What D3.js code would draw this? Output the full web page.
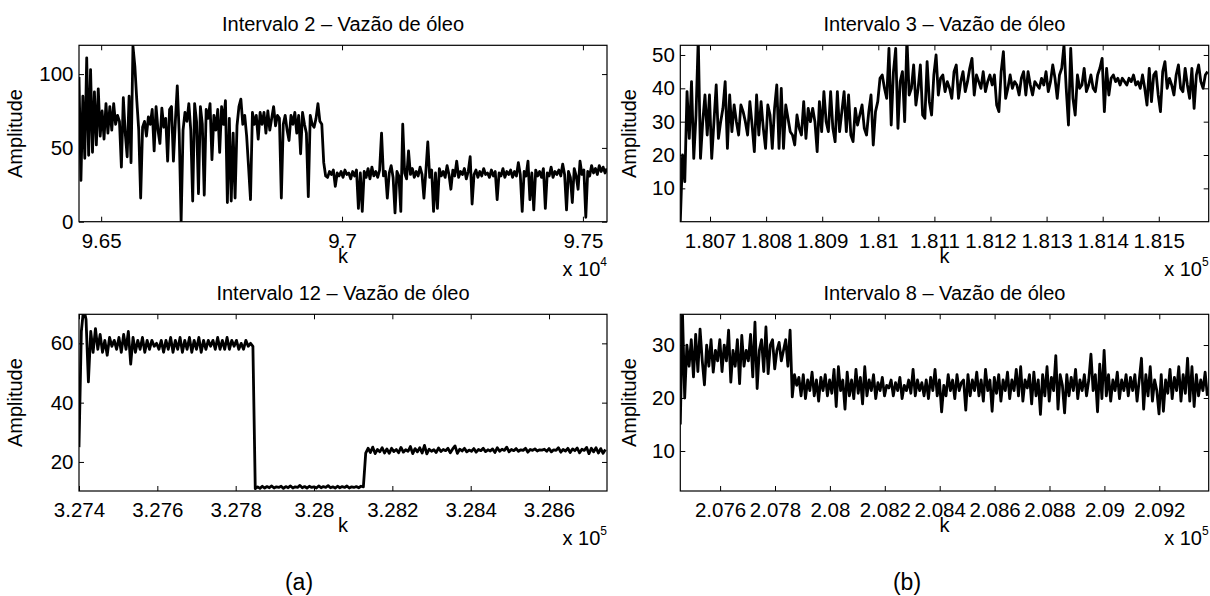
<!DOCTYPE html>
<html>
<head>
<meta charset="utf-8">
<title>Vazão de óleo</title>
<script src="https://cdn.jsdelivr.net/npm/d3@7"></script>
<style>
body{margin:0;background:#fff;}
text{font-family:"Liberation Sans",Arial,Helvetica,sans-serif;fill:#000;}
</style>
</head>
<body>
<script>
// amplitude samples (uniform k step per panel)
var kStartInt2=96454, kStepInt2=4;
var ampInt2=[98,28,85,43,111,45,103,47,88,52,
90,58,75,56,80,60,78,62,80,66,
72,68,37,84,60,44,85,40,119,105,
82,62,16,64,68,58,71,66,76,48,
78,62,53,77,64,70,41,76,78,41,
68,92,60,0,62,74,68,80,62,14,
80,68,19,78,66,18,76,70,80,42,
72,62,76,47,78,66,82,13,70,14,
60,16,65,78,83,66,72,58,37,15,
74,66,72,56,74,66,74,60,75,62,
70,78,65,72,70,16,66,72,62,55,
72,66,74,60,72,46,74,66,60,17,
72,66,64,70,80,68,66,40,31,30,
34,32,35,24,33,31,34,30,35,32,
33,29,34,31,35,9,33,7,34,30,
36,29,37,31,34,30,35,60,31,34,
16,33,38,30,6,34,31,7,66,33,
29,48,32,36,30,34,31,37,32,16,
34,54,30,35,7,33,9,36,31,34,
30,38,32,22,35,31,41,30,34,32,
36,29,34,44,12,32,35,30,34,31,
36,32,33,30,35,31,34,15,33,31,
36,30,34,32,35,30,34,31,40,32,
7,34,31,41,15,33,8,35,31,34,
30,36,9,33,31,37,30,34,32,35,
31,39,32,8,34,30,13,36,31,22,
41,32,35,3,34,31,38,33,36,32,
38,34,37,33,36];

var kStartInt3=180647, kStepInt3=4;
var ampInt3=[0,20,12,39,25,42,19,32,55,19,
30,38,26,38,19,30,41,25,30,34,
42,22,38,27,35,30,26,35,33,30,
26,36,29,21,38,26,36,28,22,35,
32,22,34,41,22,40,22,35,31,27,
26,23,32,28,26,36,25,34,30,34,
30,21,36,27,39,30,27,39,28,24,
39,27,33,39,27,38,26,24,34,29,
32,35,28,26,33,38,23,33,36,43,
44,40,37,52,29,45,52,28,42,45,
30,55,38,40,47,35,40,47,32,31,
48,36,32,44,50,38,43,44,39,42,
40,37,45,47,37,42,45,39,42,46,
49,38,44,42,40,45,39,42,44,41,
44,35,33,45,51,37,40,44,40,42,
41,38,43,45,38,45,41,38,42,41,
40,43,41,45,39,42,47,43,37,44,
46,53,40,29,52,37,32,44,40,41,
46,39,41,44,40,39,44,46,49,33,
46,38,43,44,42,43,41,43,42,41,
43,42,44,41,42,40,44,40,35,46,
36,44,45,38,33,45,48,40,43,41,
38,44,47,40,39,46,41,37,46,34,
44,47,42,40,44,45];

var kStartInt12=327400, kStepInt12=6;
var ampInt12=[25,64,72,68,47,64,57,65,58,63,
57,61,56,62,59,61,58,62,57,63,
58,64,53,62,57,61,58,62,57,61,
58,61,59,60,58,61,57,61,58,62,
57,61,58,62,57,61,58,62,57,61,
58,62,57,61,58,61,59,61,58,62,
58,61,58,62,58,61,59,61,58,60,
58,61,59,60,59,11,11.6,11.1,11.8,11.2,
11.7,11.3,11.9,11.2,11.6,11.4,11.8,11.1,11.7,11.3,
11.9,11.2,11.6,11.4,12.1,11.3,11.7,11.2,11.8,11.4,
11.6,11.2,11.9,11.3,11.7,11.4,12.0,11.3,11.6,11.2,
11.8,11.3,11.7,11.4,11.9,11.2,11.6,11.4,11.7,11.3,
11.8,11.6,23,24.6,23.2,25,22.8,24.2,23.4,24.8,
23,24.4,22.9,24.6,23.5,24.2,23.1,24.9,23.3,24.1,
23.6,25.2,22.8,24.5,23.4,24.8,23,25.6,22.7,24.3,
23.6,24.1,23.2,24.7,23.5,24.2,23.8,24.6,23.1,24.4,
25.4,22.9,24.3,23.7,24.6,23.4,24,23.6,24.5,23.3,
24.2,23.8,24.6,23.5,24.1,23.7,24.4,23.2,24.8,23.6,
24.3,23.9,25,23.4,24.2,23.8,24.5,23.6,24.1,23.9,
24.6,23.3,24.2,23.9,24.4,23.7,24.1,24,24.3,23.6,
24.5,23.4,24.1,23.9,24.8,23.3,24.2,23.7,24.6,23.2,
24.4,23.8,24.7,23.1,24.3,23.9,24.9,22.8,24.6,23.4,
24.8,23,24.5,22.9,24.2];

var kStartInt8=207455, kStepInt8=8;
var ampInt8=[15,36,20,30,26,31,24,32,25,33,
27,22.5,30,26,31,24.9,29,27,31,25,
30,27,32.8,23,29,26,31,22.7,31.8,26,
29,27,32,24,34.3,21.8,29,31,25,33.4,
24.6,30,31,25.5,29,30.5,27,29,31,26,
32.8,20.2,24.4,22.4,23.9,20.4,24.4,19.9,23.4,21.4,
24.9,20.4,23.4,19.4,23.9,21.4,24.4,20.4,23.4,20.9,
25.4,18.4,25.9,21.4,23.4,17.9,24.9,20.4,23.4,19.9,
25.4,20.9,23.9,18.9,25.9,20.4,23.4,21.4,24.4,19.9,
22.9,21.4,23.9,20.4,22.4,21.9,23.4,20.4,22.9,21.4,
23.9,19.9,22.4,21.4,23.4,20.9,25.4,20.4,23.4,21.4,
22.9,20.4,23.4,19.9,23.9,21.4,25.4,20.4,23.4,17.4,
22.4,20.4,24.4,21.4,23.4,19.9,24.4,21.4,22.9,23.4,
17.7,24.4,20.4,23.4,21.4,24.9,20.4,23.4,19.4,25.4,
21.4,23.4,17.5,23.9,20.9,24.4,19.4,23.4,21.4,24.9,
19.9,23.4,21.4,25.4,20.4,25.9,19.4,23.4,21.9,24.4,
18.9,24.9,20.4,23.4,16.9,24.4,20.4,25.9,19.4,23.9,
21.4,28,17.9,24.4,22.4,17.2,24.4,20.4,23.9,21.4,
25.4,19.9,23.4,21.4,24.4,20.4,23.4,28.3,21.4,24.4,
17.4,26.4,19.9,29,20.4,24.4,19.4,23.4,21.4,24.9,
19.9,23.4,21.4,24.4,20.4,23.9,21.4,24.4,19.4,23.4,
27.5,17.9,24.4,20.4,25.9,19.4,23.4,21.4,17,24.4,
17.5,23.4,20.9,25.4,19.9,23.9,21.4,25.9,19.4,24.4,
20.9,27.5,19.4,25.9,18.4,24.4,20.4,23.4,21.4,24.9,
20.4];

// tick values and labels
var xTicksInt2=[96500,97000,97500], xLabelsInt2=['9.65','9.7','9.75'];
var yTicksInt2=[0,50,100];
var xTicksInt3=[180700,180800,180900,181000,181100,181200,181300,181400,181500];
var xLabelsInt3=['1.807','1.808','1.809','1.81','1.811','1.812','1.813','1.814','1.815'];
var yTicksInt3=[10,20,30,40,50];
var xTicksInt12=[327400,327600,327800,328000,328200,328400,328600];
var xLabelsInt12=['3.274','3.276','3.278','3.28','3.282','3.284','3.286'];
var yTicksInt12=[20,40,60];
var xTicksInt8=[207600,207800,208000,208200,208400,208600,208800,209000,209200];
var xLabelsInt8=['2.076','2.078','2.08','2.082','2.084','2.086','2.088','2.09','2.092'];
var yTicksInt8=[10,20,30];

function toPoints(kStart,kStep,amp){
	return amp.map(function(v,i){return [kStart+i*kStep,v];});
}

var panels=[
	{title:'Intervalo 2 – Vazão de óleo',data:toPoints(kStartInt2,kStepInt2,ampInt2),
	 xDom:[96454,97550],yDom:[0,119.5],xTicks:xTicksInt2,xLabels:xLabelsInt2,yTicks:yTicksInt2,
	 exp:'4',x:79,y:45.3,w:528,h:176.4,yl:-57},
	{title:'Intervalo 3 – Vazão de óleo',data:toPoints(kStartInt3,kStepInt3,ampInt3),
	 xDom:[180647,181589],yDom:[0,52.9],xTicks:xTicksInt3,xLabels:xLabelsInt3,yTicks:yTicksInt3,
	 exp:'5',x:680.3,y:45.3,w:528.4,h:176.4,yl:-44},
	{title:'Intervalo 12 – Vazão de óleo',data:toPoints(kStartInt12,kStepInt12,ampInt12),
	 xDom:[327400,328748],yDom:[10.2,69.8],xTicks:xTicksInt12,xLabels:xLabelsInt12,yTicks:yTicksInt12,
	 exp:'5',x:79,y:314.3,w:528,h:176.7,yl:-57},
	{title:'Intervalo 8 – Vazão de óleo',data:toPoints(kStartInt8,kStepInt8,ampInt8),
	 xDom:[207455,209380],yDom:[2.45,35.8],xTicks:xTicksInt8,xLabels:xLabelsInt8,yTicks:yTicksInt8,
	 exp:'5',x:680.3,y:314.3,w:528.4,h:176.7,yl:-44}
];

var svg=d3.select('body').append('svg')
	.attr('width',1210)
	.attr('height',596);

panels.forEach(function(p,n){
	var g=svg.append('g').attr('transform','translate('+p.x+','+p.y+')');
	var xScale=d3.scaleLinear().domain(p.xDom).range([0,p.w]);
	var yScale=d3.scaleLinear().domain(p.yDom).range([p.h,0]);

	g.append('clipPath').attr('id','clip'+n)
		.append('rect').attr('width',p.w).attr('height',p.h);

	var line=d3.line()
		.x(function(d){return xScale(d[0]);})
		.y(function(d){return yScale(d[1]);});

	g.append('path')
		.datum(p.data)
		.attr('clip-path','url(#clip'+n+')')
		.attr('d',line)
		.attr('fill','none')
		.attr('stroke','#000')
		.attr('stroke-width',2.8)
		.attr('stroke-linejoin','round');

	// axes, ticks pointing inside like matlab
	g.append('g').attr('transform','translate(0,'+p.h+')')
		.call(d3.axisBottom(xScale).tickValues(p.xTicks)
			.tickFormat(function(d,i){return p.xLabels[i];})
			.tickSizeInner(-5).tickSizeOuter(0).tickPadding(11.6));
	g.append('g')
		.call(d3.axisTop(xScale).tickValues(p.xTicks).tickFormat('')
			.tickSizeInner(-5).tickSizeOuter(0));
	g.append('g')
		.call(d3.axisLeft(yScale).tickValues(p.yTicks)
			.tickSizeInner(-5).tickSizeOuter(0).tickPadding(5.5));
	g.append('g').attr('transform','translate('+p.w+',0)')
		.call(d3.axisRight(yScale).tickValues(p.yTicks).tickFormat('')
			.tickSizeInner(-5).tickSizeOuter(0));

	g.selectAll('.domain').remove();
	g.selectAll('.tick line').attr('stroke','#000').attr('stroke-width',1);
	g.selectAll('.tick text').attr('font-size','20.5px')
		.attr('font-family','"Liberation Sans",Arial,sans-serif');

	g.append('rect')
		.attr('width',p.w).attr('height',p.h)
		.attr('fill','none').attr('stroke','#000').attr('stroke-width',1.2);

	g.append('text')
		.attr('x',p.w/2).attr('y',-14.8)
		.attr('text-anchor','middle')
		.attr('font-size','20px')
		.text(p.title);

	g.append('text')
		.attr('x',p.w/2).attr('y',p.h+41)
		.attr('text-anchor','middle')
		.attr('font-size','20px')
		.text('k');

	var ex=g.append('text')
		.attr('x',p.w).attr('y',p.h+54)
		.attr('text-anchor','end')
		.attr('font-size','20px');
	ex.append('tspan').text('x 10');
	ex.append('tspan').attr('font-size','12px').attr('dy',-10).text(p.exp);

	g.append('text')
		.attr('transform','translate('+p.yl+','+(p.h/2)+') rotate(-90)')
		.attr('text-anchor','middle')
		.attr('font-size','20px')
		.text('Amplitude');
});

svg.append('text')
	.attr('x',299).attr('y',590)
	.attr('text-anchor','middle')
	.attr('font-family','"Liberation Serif","DejaVu Serif",serif')
	.attr('font-size','23px')
	.text('(a)');
svg.append('text')
	.attr('x',907).attr('y',590)
	.attr('text-anchor','middle')
	.attr('font-family','"Liberation Serif","DejaVu Serif",serif')
	.attr('font-size','23px')
	.text('(b)');
</script>
</body>
</html>
